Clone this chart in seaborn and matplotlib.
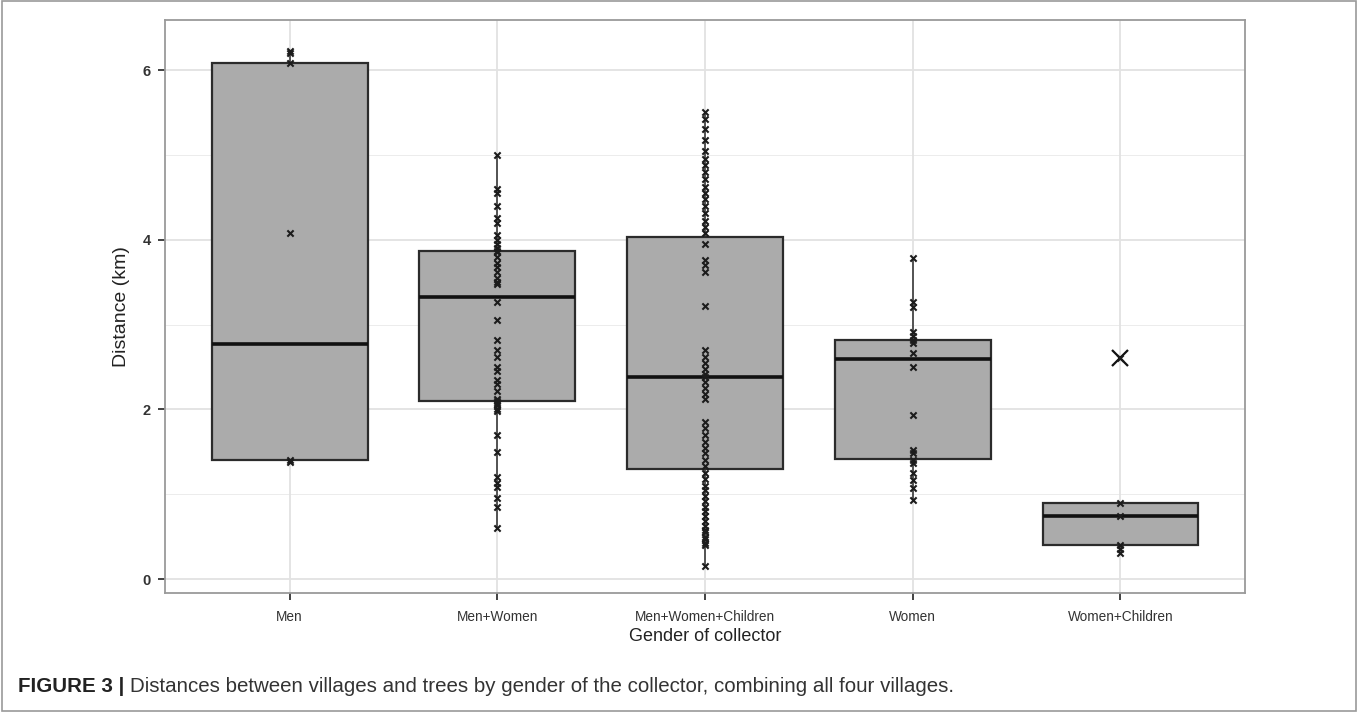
import numpy as np
import pandas as pd
import matplotlib
matplotlib.use("Agg")
import matplotlib.pyplot as plt
from matplotlib.patches import Rectangle
import seaborn as sns

# ---------------- data ----------------
categories = ["Men", "Men+Women", "Men+Women+Children", "Women", "Women+Children"]

box_q1 = [1.40, 2.10, 1.30, 1.42, 0.40]
box_median = [2.77, 3.33, 2.38, 2.59, 0.74]
box_q3 = [6.08, 3.87, 4.03, 2.82, 0.90]
whisker_low = [1.38, 0.60, 0.15, 0.92, 0.32]
whisker_high = [6.22, 5.00, 5.50, 3.78, 0.90]
outliers = [[], [], [], [], [2.60]]

pts_men = [6.22, 6.20, 6.08, 4.08, 1.40, 1.38]
pts_men_women = [5.00, 4.60, 4.55, 4.40, 4.25, 4.20, 4.05, 4.00, 3.95, 3.90, 3.87,
                 3.85, 3.80, 3.72, 3.68, 3.62, 3.55, 3.50, 3.48, 3.27, 3.05, 2.82,
                 2.70, 2.62, 2.50, 2.45, 2.35, 2.30, 2.22, 2.12, 2.10, 2.07, 2.05,
                 2.00, 1.98, 1.70, 1.50, 1.20, 1.13, 1.08, 0.95, 0.85, 0.60]
pts_mwc = [5.50, 5.42, 5.30, 5.18, 5.05, 4.95, 4.88, 4.80, 4.72, 4.62, 4.55, 4.48,
           4.40, 4.32, 4.22, 4.15, 4.08, 3.95, 3.76, 3.70, 3.62, 3.22, 2.70, 2.62,
           2.55, 2.48, 2.42, 2.38, 2.32, 2.25, 2.18, 2.12, 1.85, 1.78, 1.70, 1.62,
           1.55, 1.48, 1.40, 1.33, 1.25, 1.18, 1.10, 1.05, 0.98, 0.92, 0.85, 0.80,
           0.74, 0.68, 0.62, 0.58, 0.55, 0.50, 0.47, 0.43, 0.40, 0.15]
pts_women = [3.78, 3.27, 3.21, 2.91, 2.86, 2.82, 2.78, 2.66, 2.50, 1.93, 1.52,
             1.48, 1.40, 1.37, 1.25, 1.17, 1.07, 0.93]
pts_women_children = [2.60, 0.90, 0.74, 0.40, 0.35, 0.31]

y_ticks = [0, 2, 4, 6]
x_title = "Gender of collector"
y_title = "Distance (km)"
caption_bold = "FIGURE 3 |"
caption_text = "Distances between villages and trees by gender of the collector, combining all four villages."

# ---------------- build frame ----------------
point_lists = [pts_men, pts_men_women, pts_mwc, pts_women, pts_women_children]
df = pd.DataFrame({
    "collector": np.concatenate([[c] * len(p) for c, p in zip(categories, point_lists)]),
    "distance": np.concatenate(point_lists),
})

sns.set_theme(style="white")
plt.rcParams["font.family"] = ["Liberation Sans", "DejaVu Sans"]

W, H = 1358, 712
fig = plt.figure(figsize=(W / 100, H / 100), dpi=100)
ax = fig.add_axes([165 / W, 1 - 593 / H, (1245 - 165) / W, (593 - 20) / H])

# grid
ax.set_axisbelow(True)
for v in [1, 3, 5]:
    ax.axhline(v, color="#ececec", lw=0.7, zorder=0)
for v in y_ticks:
    ax.axhline(v, color="#e2e2e2", lw=1.3, zorder=0)
for i in range(len(categories)):
    ax.axvline(i, color="#e2e2e2", lw=1.3, zorder=0)

# boxes
stats = []
for i, c in enumerate(categories):
    stats.append(dict(label=c, q1=box_q1[i], med=box_median[i], q3=box_q3[i],
                      whislo=whisker_low[i], whishi=whisker_high[i], fliers=outliers[i]))
ax.bxp(stats, positions=list(range(len(categories))), widths=0.75, patch_artist=True,
       showcaps=False, showfliers=True,
       boxprops=dict(facecolor="#ababab", edgecolor="#2b2b2b", linewidth=1.6),
       medianprops=dict(color="#111111", linewidth=2.6),
       whiskerprops=dict(color="#2b2b2b", linewidth=1.1),
       flierprops=dict(marker="x", markersize=11, markeredgewidth=1.6,
                       markeredgecolor="#111111"),
       manage_ticks=False, zorder=2)

# points
sns.stripplot(data=df, x="collector", y="distance", order=categories, jitter=False,
              marker="x", size=4.5, linewidth=1.5, color="#1c1c1c", ax=ax, zorder=3)

ax.set_xlim(-0.6, 4.6)
ax.set_ylim(-0.165, 6.59)
ax.set_yticks(y_ticks)
ax.set_yticklabels([str(t) for t in y_ticks])
ax.set_xticks(range(len(categories)))
ax.set_xticklabels(categories)
ax.tick_params(axis="both", which="major", length=5, width=1.3, color="#333333",
               labelcolor="#333333", direction="out", bottom=True, left=True)
ax.tick_params(axis="x", pad=7, labelsize=9.8)
ax.tick_params(axis="y", pad=5, labelsize=10.5)
for lab in ax.get_yticklabels():
    lab.set_fontweight("semibold")
for s in ax.spines.values():
    s.set_color("#9a9a9a")
    s.set_linewidth(1.3)
ax.set_xlabel(x_title, fontsize=13, color="#222222", labelpad=3)
ax.set_ylabel(y_title, fontsize=14, color="#222222", labelpad=9)

# outer frame
fig.add_artist(Rectangle((0.0015, 0.002), 0.997, 0.996, transform=fig.transFigure,
                         fill=False, edgecolor="#9a9a9a", linewidth=1.2))

# caption
t1 = fig.text(18 / W, 1 - 686 / H, caption_bold, fontsize=14.8, fontweight="bold",
              color="#222222", va="center", ha="left")
fig.canvas.draw()
bb = t1.get_window_extent()
fig.text((bb.x1 + 6) / W, 1 - 686 / H, caption_text, fontsize=14.8, color="#333333",
         va="center", ha="left")

fig.savefig("out.png", dpi=100)
